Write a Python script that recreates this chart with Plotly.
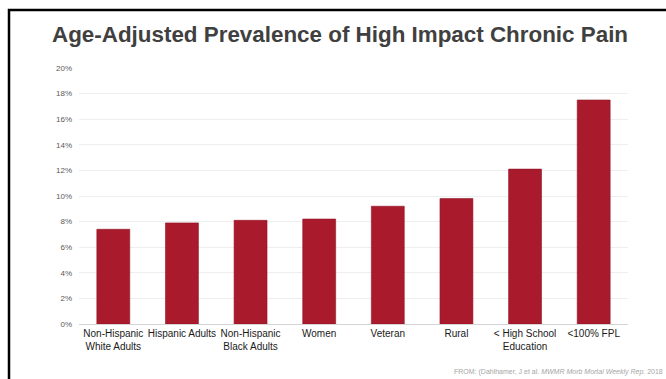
import plotly.graph_objects as go

# Age-adjusted prevalence of high impact chronic pain by population group
categories = [
    "Non-Hispanic<br>White Adults",
    "Hispanic Adults",
    "Non-Hispanic<br>Black Adults",
    "Women",
    "Veteran",
    "Rural",
    "< High School<br>Education",
    "<100% FPL",
]
prevalence = [0.074, 0.079, 0.081, 0.082, 0.092, 0.098, 0.121, 0.175]
y_ticks = [0.00, 0.02, 0.04, 0.06, 0.08, 0.10, 0.12, 0.14, 0.16, 0.18, 0.20]

W, H = 666, 379
L, R, T, B = 79, 38, 68, 55
pw, ph = W - L - R, H - T - B


def px_x(x):
    return (x - L) / pw


def px_y(y):
    return (H - B - y) / ph


fig = go.Figure(
    go.Bar(
        x=categories,
        y=prevalence,
        marker=dict(color="#A81A2C", line=dict(color="#931626", width=0.6)),
        width=0.48,
        hoverinfo="skip",
    )
)

# slide frame: left and top rules
frame_path = "M {} {} L {} {} L {} {}".format(
    px_x(9), px_y(H + 5), px_x(9), px_y(10), px_x(W + 5), px_y(10)
)
fig.add_shape(
    type="path", path=frame_path, xref="paper", yref="paper",
    line=dict(color="#000000", width=2.5),
)

fig.add_annotation(
    text="<b>Age-Adjusted Prevalence of High Impact Chronic Pain</b>",
    xref="paper", yref="paper", x=px_x(340), y=px_y(34),
    xanchor="center", yanchor="middle", showarrow=False,
    font=dict(family="Liberation Sans, Arial, sans-serif", size=22.4, color="#404040"),
)

fig.add_annotation(
    text="FROM: (Dahlhamer, J et al. <i>MWMR Morb Mortal Weekly Rep.</i> 2018",
    xref="paper", yref="paper", x=px_x(665), y=px_y(372),
    xanchor="right", yanchor="middle", showarrow=False,
    font=dict(family="Liberation Sans, Arial, sans-serif", size=7, color="#A6A6A6"),
)

fig.update_layout(
    width=W, height=H,
    margin=dict(l=L, r=R, t=T, b=B),
    paper_bgcolor="#FFFFFF", plot_bgcolor="#FFFFFF",
    showlegend=False,
    bargap=0.52,
    font=dict(family="Liberation Sans, Arial, sans-serif"),
    xaxis=dict(
        showgrid=False, showline=False, zeroline=False, ticks="",
        ticklabelstandoff=2,
        tickfont=dict(size=10, color="#1A1A1A"),
        fixedrange=True,
    ),
    yaxis=dict(
        range=[0, 0.2], tickvals=y_ticks, tickformat=".0%",
        showgrid=True, gridcolor="#EEEEEE", gridwidth=1,
        zeroline=True, zerolinecolor="#D4D4D4", zerolinewidth=1,
        showline=False, ticks="",
        ticklabelstandoff=6,
        tickfont=dict(size=8, color="#595959"),
        fixedrange=True,
    ),
)

fig.write_html("out.html")
